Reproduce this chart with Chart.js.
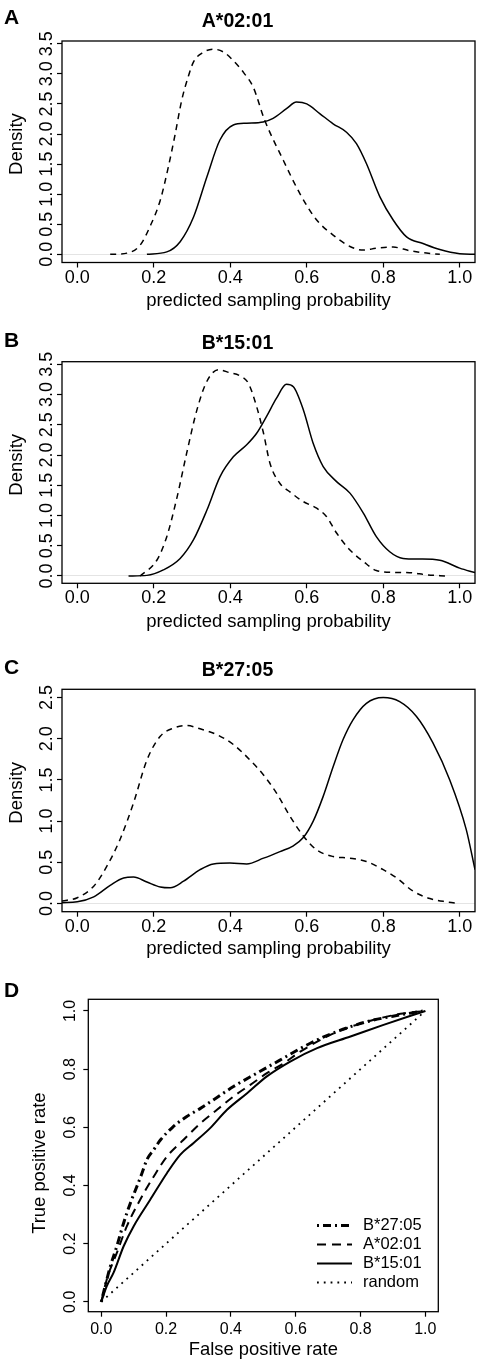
<!DOCTYPE html>
<html>
<head>
<meta charset="utf-8">
<script src="https://cdn.jsdelivr.net/npm/chart.js@4.4.1/dist/chart.umd.min.js"></script>
<style>
    html, body { margin: 0; padding: 0; background: #fff; }
    #page { position: relative; width: 481px; height: 1367px; overflow: hidden; }
    canvas { position: absolute; left: 0; }
    .panel_letter { position: absolute; left: 4px; font: bold 21px "Liberation Sans", Arial, sans-serif; line-height: 1; color: #000; }
</style>
</head>
<body>
<div id="page">
    <canvas id="panel_a" width="481" height="320" style="top:0px"></canvas>
    <canvas id="panel_b" width="481" height="320" style="top:320px"></canvas>
    <canvas id="panel_c" width="481" height="320" style="top:640px"></canvas>
    <canvas id="panel_d" width="481" height="407" style="top:960px"></canvas>
    <div class="panel_letter" style="top:5.5px">A</div>
    <div class="panel_letter" style="top:329px">B</div>
    <div class="panel_letter" style="top:655.5px">C</div>
    <div class="panel_letter" style="top:979px">D</div>
</div>
<script>
// ---- data ----
const x_ticks = [0, 0.2, 0.4, 0.6, 0.8, 1.0]
const density_ticks_ab = [0, 0.5, 1.0, 1.5, 2.0, 2.5, 3.0, 3.5]
const density_ticks_c = [0, 0.5, 1.0, 1.5, 2.0, 2.5]
const roc_ticks = [0, 0.2, 0.4, 0.6, 0.8, 1.0]

// A*02:01
const a_dashed_x = [0.086, 0.13, 0.164, 0.19, 0.217, 0.238, 0.256, 0.273, 0.29, 0.304, 0.33, 0.356, 0.383, 0.408, 0.435, 0.46, 0.49, 0.539, 0.582, 0.626, 0.669, 0.713, 0.748, 0.782, 0.826, 0.869, 0.913, 0.948]
const a_dashed_y = [0, 0.02, 0.15, 0.46, 0.9, 1.45, 2.0, 2.56, 2.95, 3.2, 3.36, 3.41, 3.36, 3.22, 3.02, 2.78, 2.23, 1.56, 1.01, 0.57, 0.32, 0.13, 0.07, 0.1, 0.12, 0.06, 0.02, 0]
const a_solid_x = [0.182, 0.234, 0.269, 0.304, 0.339, 0.373, 0.408, 0.443, 0.486, 0.512, 0.547, 0.573, 0.6, 0.634, 0.669, 0.704, 0.73, 0.756, 0.791, 0.826, 0.861, 0.904, 0.948, 1.0, 1.04]
const a_solid_y = [0, 0.04, 0.21, 0.62, 1.29, 1.9, 2.15, 2.18, 2.2, 2.26, 2.42, 2.53, 2.5, 2.34, 2.17, 2.03, 1.84, 1.51, 0.96, 0.57, 0.29, 0.18, 0.08, 0.01, 0]

// B*15:01
const b_dashed_x = [0.164, 0.208, 0.234, 0.26, 0.286, 0.313, 0.339, 0.369, 0.399, 0.425, 0.447, 0.469, 0.487, 0.504, 0.53, 0.556, 0.591, 0.626, 0.652, 0.678, 0.713, 0.748, 0.782, 0.826, 0.869, 0.913, 0.965]
const b_dashed_y = [0, 0.26, 0.65, 1.28, 2.03, 2.75, 3.22, 3.41, 3.36, 3.31, 3.19, 2.8, 2.36, 1.86, 1.53, 1.39, 1.23, 1.12, 0.98, 0.71, 0.43, 0.24, 0.09, 0.06, 0.055, 0.02, 0]
const b_solid_x = [0.134, 0.182, 0.225, 0.269, 0.304, 0.339, 0.373, 0.408, 0.443, 0.469, 0.495, 0.521, 0.547, 0.565, 0.591, 0.617, 0.643, 0.678, 0.713, 0.748, 0.782, 0.817, 0.852, 0.896, 0.948, 1.0, 1.04]
const b_solid_y = [0, 0.01, 0.1, 0.29, 0.6, 1.09, 1.64, 1.97, 2.17, 2.36, 2.64, 2.94, 3.17, 3.13, 2.75, 2.19, 1.81, 1.56, 1.37, 1.04, 0.65, 0.4, 0.29, 0.28, 0.26, 0.13, 0.055]

// B*27:05
const c_dashed_x = [-0.04, 0, 0.043, 0.077, 0.112, 0.147, 0.182, 0.217, 0.252, 0.286, 0.321, 0.365, 0.408, 0.452, 0.487, 0.521, 0.556, 0.591, 0.626, 0.669, 0.713, 0.756, 0.8, 0.835, 0.878, 0.922, 0.965, 1.0]
const c_dashed_y = [0.03, 0.07, 0.21, 0.45, 0.78, 1.22, 1.74, 2.03, 2.13, 2.16, 2.12, 2.05, 1.93, 1.74, 1.56, 1.34, 1.06, 0.82, 0.65, 0.57, 0.55, 0.51, 0.41, 0.31, 0.15, 0.06, 0.02, 0]
const c_solid_x = [-0.04, 0, 0.043, 0.086, 0.121, 0.147, 0.182, 0.217, 0.243, 0.278, 0.321, 0.356, 0.399, 0.443, 0.487, 0.53, 0.565, 0.591, 0.617, 0.643, 0.669, 0.695, 0.721, 0.756, 0.8, 0.843, 0.887, 0.93, 0.974, 1.017, 1.04]
const c_solid_y = [0.01, 0.02, 0.08, 0.22, 0.31, 0.32, 0.26, 0.2, 0.19, 0.27, 0.41, 0.48, 0.49, 0.48, 0.55, 0.63, 0.7, 0.8, 1.0, 1.3, 1.66, 1.99, 2.23, 2.43, 2.5, 2.45, 2.27, 1.95, 1.5, 0.9, 0.41]

// ROC curves
const roc_labels = ["B*27:05", "A*02:01", "B*15:01", "random"]
const roc_b2705_fpr = [0, 0.012, 0.028, 0.048, 0.069, 0.09, 0.11, 0.125, 0.141, 0.162, 0.183, 0.22, 0.264, 0.306, 0.347, 0.408, 0.48, 0.55, 0.645, 0.727, 0.82, 0.9, 0.995]
const roc_b2705_tpr = [0, 0.054, 0.122, 0.191, 0.271, 0.34, 0.397, 0.44, 0.489, 0.523, 0.557, 0.6, 0.637, 0.665, 0.695, 0.74, 0.786, 0.83, 0.889, 0.929, 0.963, 0.982, 1.0]
const roc_a0201_fpr = [0, 0.017, 0.048, 0.079, 0.12, 0.162, 0.203, 0.254, 0.306, 0.357, 0.408, 0.46, 0.511, 0.563, 0.614, 0.717, 0.82, 0.923, 1.0]
const roc_a0201_tpr = [0, 0.077, 0.168, 0.26, 0.351, 0.431, 0.5, 0.557, 0.614, 0.66, 0.706, 0.746, 0.786, 0.82, 0.86, 0.923, 0.963, 0.99, 1.0]
const roc_b1501_fpr = [0, 0.017, 0.038, 0.069, 0.1, 0.151, 0.203, 0.244, 0.285, 0.336, 0.388, 0.45, 0.511, 0.583, 0.666, 0.769, 0.871, 1.0]
const roc_b1501_tpr = [0, 0.054, 0.1, 0.191, 0.26, 0.351, 0.443, 0.506, 0.546, 0.597, 0.66, 0.717, 0.775, 0.826, 0.872, 0.912, 0.952, 1.0]
const roc_random_fpr = [0, 1]
const roc_random_tpr = [0, 1]

// ---- drawing ----
const font_family = "'Liberation Sans', Arial, Helvetica, sans-serif"
Chart.defaults.font.family = font_family
Chart.defaults.color = "#000"

function to_points(xs, ys)
{
    return xs.map((x, i) => ({ x: x, y: ys[i] }))
}

// R style box round the plot region
const box_plugin = {
    id: "box",
    afterDraw(chart)
    {
        const { ctx, chartArea } = chart
        ctx.save()
        ctx.strokeStyle = "#000"
        ctx.lineWidth = 1.3
        ctx.strokeRect(chartArea.left, chartArea.top, chartArea.right - chartArea.left, chartArea.bottom - chartArea.top)
        ctx.restore()
    }
}

function fixed_ticks(values)
{
    return scale => { scale.ticks = values.map(v => ({ value: v })) }
}

function make_density_chart(canvas_id, title, title_pad, dashed, solid, y_range, y_ticks, x_height, x_tick_pad, x_title_pad)
{
    const ctx = document.getElementById(canvas_id).getContext("2d")
    return new Chart(ctx, {
        type: "scatter",
        data: {
            datasets: [
                {
                    data: to_points(dashed[0], dashed[1]),
                    showLine: true,
                    borderColor: "#000",
                    borderWidth: 1.5,
                    borderDash: [6, 5],
                    pointRadius: 0,
                    cubicInterpolationMode: "monotone",
                },
                {
                    data: to_points(solid[0], solid[1]),
                    showLine: true,
                    borderColor: "#000",
                    borderWidth: 1.5,
                    pointRadius: 0,
                    cubicInterpolationMode: "monotone",
                },
            ]
        },
        options: {
            responsive: false,
            animation: false,
            devicePixelRatio: 1,
            layout: { padding: { left: 0, right: 6, top: 0, bottom: 0 } },
            plugins: {
                legend: { display: false },
                tooltip: { enabled: false },
                title: {
                    display: true,
                    text: title,
                    font: { size: 19.5, weight: "bold" },
                    padding: title_pad,
                },
            },
            scales: {
                x: {
                    type: "linear",
                    min: -0.04,
                    max: 1.04,
                    afterBuildTicks: fixed_ticks(x_ticks),
                    afterFit: scale => { scale.height = x_height },
                    border: { display: false },
                    grid: { drawOnChartArea: false, tickLength: 5, tickColor: "#000", tickWidth: 1.2 },
                    ticks: { font: { size: 18 }, padding: x_tick_pad, maxRotation: 0, minRotation: 0, autoSkip: false,
                             callback: v => v.toFixed(1) },
                    title: { display: true, text: "predicted sampling probability", font: { size: 18.5 },
                             padding: { top: 0, bottom: x_title_pad } },
                },
                y: {
                    type: "linear",
                    min: y_range[0],
                    max: y_range[1],
                    afterBuildTicks: fixed_ticks(y_ticks),
                    afterFit: scale => { scale.width = 62 },
                    border: { display: false },
                    grid: {
                        // only the light zero line of plot.density
                        color: c => c.tick && c.tick.value === 0 ? "#e4e4e4" : "rgba(0,0,0,0)",
                        tickColor: "#000", tickLength: 5, tickWidth: 1.2,
                    },
                    ticks: { font: { size: 18 }, padding: -2.2, minRotation: 90, maxRotation: 90, crossAlign: "center",
                             autoSkip: false, callback: v => v.toFixed(1) },
                    title: { display: true, text: "   Density", font: { size: 18.5 }, padding: { top: 5.7, bottom: 0 } },
                },
            },
        },
        plugins: [box_plugin],
    })
}

make_density_chart("panel_a", "A*02:01", { top: 10, bottom: 7.6 }, [a_dashed_x, a_dashed_y], [a_solid_x, a_solid_y],
    [-0.136, 3.546], density_ticks_ab, 57.5, -0.2, 8.4)
make_density_chart("panel_b", "B*15:01", { top: 11.6, bottom: 6.7 }, [b_dashed_x, b_dashed_y], [b_solid_x, b_solid_y],
    [-0.121, 3.543], density_ticks_ab, 56.7, -0.8, 6.9)
make_density_chart("panel_c", "B*27:05", { top: 19, bottom: 6.9 }, [c_dashed_x, c_dashed_y], [c_solid_x, c_solid_y],
    [-0.1, 2.6], density_ticks_c, 48.3, -0.8, 0.2)

// legend drawn inside the plot, lower right, like R's legend()
const roc_legend_plugin = {
    id: "roc_legend",
    afterDraw(chart)
    {
        const { ctx } = chart
        ctx.save()
        ctx.font = "16.5px " + font_family
        ctx.textBaseline = "middle"
        ctx.fillStyle = "#000"
        chart.data.datasets.forEach((ds, i) => {
            const y = 265.5 + i * 19
            ctx.strokeStyle = "#000"
            ctx.lineWidth = ds.borderWidth
            ctx.lineCap = ds.borderCapStyle || "butt"
            ctx.setLineDash(ds.borderDash || [])
            ctx.beginPath()
            ctx.moveTo(317, y)
            ctx.lineTo(352, y)
            ctx.stroke()
            ctx.fillText(ds.label, 363, y)
        })
        ctx.restore()
    }
}

const roc_ctx = document.getElementById("panel_d").getContext("2d")
new Chart(roc_ctx, {
    type: "scatter",
    data: {
        datasets: [
            {
                label: roc_labels[0],
                data: to_points(roc_b2705_fpr, roc_b2705_tpr),
                showLine: true, borderColor: "#000", borderWidth: 3, borderDash: [2, 4, 8, 4],
                pointRadius: 0, cubicInterpolationMode: "monotone",
            },
            {
                label: roc_labels[1],
                data: to_points(roc_a0201_fpr, roc_a0201_tpr),
                showLine: true, borderColor: "#000", borderWidth: 2, borderDash: [9, 6],
                pointRadius: 0, cubicInterpolationMode: "monotone",
            },
            {
                label: roc_labels[2],
                data: to_points(roc_b1501_fpr, roc_b1501_tpr),
                showLine: true, borderColor: "#000", borderWidth: 2,
                pointRadius: 0, cubicInterpolationMode: "monotone",
            },
            {
                label: roc_labels[3],
                data: to_points(roc_random_fpr, roc_random_tpr),
                showLine: true, borderColor: "#000", borderWidth: 1.8, borderDash: [1.8, 5],
                pointRadius: 0,
            },
        ]
    },
    options: {
        responsive: false,
        animation: false,
        devicePixelRatio: 1,
        layout: { padding: { left: 0, right: 42.7, top: 39.3, bottom: 0 } },
        plugins: {
            legend: { display: false },
            tooltip: { enabled: false },
            title: { display: false },
        },
        scales: {
            x: {
                type: "linear",
                min: -0.04,
                max: 1.04,
                afterBuildTicks: fixed_ticks(roc_ticks),
                afterFit: scale => { scale.height = 55.3 },
                border: { display: false },
                grid: { drawOnChartArea: false, tickLength: 5, tickColor: "#000", tickWidth: 1.2 },
                ticks: { font: { size: 16 }, padding: 2.9, maxRotation: 0, minRotation: 0, autoSkip: false,
                         callback: v => v.toFixed(1) },
                title: { display: true, text: "False positive rate", font: { size: 18.4 }, padding: { top: 0, bottom: 6 } },
            },
            y: {
                type: "linear",
                min: -0.034,
                max: 1.04,
                afterBuildTicks: fixed_ticks(roc_ticks),
                afterFit: scale => { scale.width = 88.3 },
                border: { display: false },
                grid: { drawOnChartArea: false, tickLength: 5, tickColor: "#000", tickWidth: 1.2 },
                ticks: { font: { size: 16 }, padding: 1.4, minRotation: 90, maxRotation: 90, crossAlign: "center",
                         autoSkip: false, callback: v => v.toFixed(1) },
                title: { display: true, text: "True positive rate   ", font: { size: 18.4 }, padding: { top: 29, bottom: 0 } },
            },
        },
    },
    plugins: [box_plugin, roc_legend_plugin],
})
</script>
</body>
</html>
